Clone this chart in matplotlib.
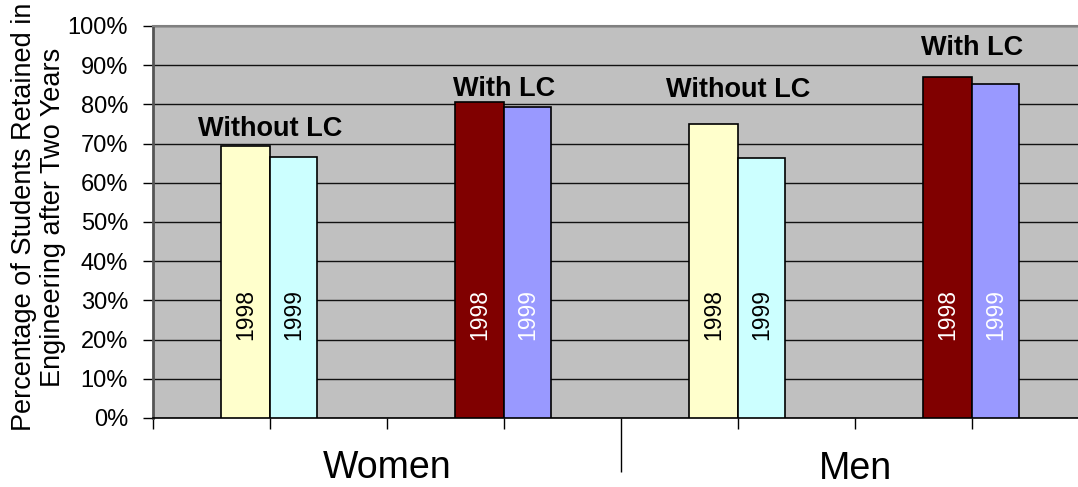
import matplotlib
matplotlib.use("Agg")
import matplotlib.pyplot as plt
from matplotlib.ticker import FixedLocator, PercentFormatter

plt.rcParams['font.family'] = ['Liberation Sans', 'DejaVu Sans']

# ---- data ----
sexes = ["Women", "Men"]
group_labels = ["Without LC", "With LC", "Without LC", "With LC"]
years = ["1998", "1999"]
values_1998 = [69.4, 80.5, 75.0, 87.0]
values_1999 = [66.5, 79.3, 66.4, 85.3]
label_heights = [71.9, 82.1, 81.9, 92.6]   # baseline of group annotations (%)
yticks = list(range(0, 101, 10))

colors_1998 = ['#FFFFCC', '#800000', '#FFFFCC', '#800000']
colors_1999 = ['#CCFFFF', '#9999FF', '#CCFFFF', '#9999FF']
text_1998 = ['black', 'white', 'black', 'white']
text_1999 = ['black', 'white', 'black', 'white']

W, H = 1078, 487
fig = plt.figure(figsize=(W / 100, H / 100), dpi=100)
ax = fig.add_axes([153 / W, 69 / H, 936 / W, 392 / H])
ax.set_facecolor('#C0C0C0')

centers = [1, 3, 5, 7]
w98, w99 = 0.42, 0.40
for i, c in enumerate(centers):
    ax.bar(c - w98, values_1998[i], width=w98, align='edge', color=colors_1998[i],
           edgecolor='black', linewidth=1.2, zorder=3)
    ax.bar(c, values_1999[i], width=w99, align='edge', color=colors_1999[i],
           edgecolor='black', linewidth=1.2, zorder=3)
    ax.text(c - w98 / 2, 26.5, years[0], rotation=90, ha='center', va='center',
            fontsize=16.5, color=text_1998[i], zorder=4)
    ax.text(c + w99 / 2, 26.5, years[1], rotation=90, ha='center', va='center',
            fontsize=16.5, color=text_1999[i], zorder=4)
    ax.text(c, label_heights[i], group_labels[i], ha='center', va='baseline',
            fontsize=19.5, fontweight='bold', color='black', zorder=4)

ax.set_xlim(0, 8)
ax.set_ylim(0, 100)
ax.yaxis.set_major_locator(FixedLocator(yticks))
ax.yaxis.set_major_formatter(PercentFormatter(decimals=0))
ax.tick_params(axis='y', direction='out', length=7, width=1, pad=11,
               labelsize=17, color='black')
ax.set_axisbelow(True)
ax.grid(axis='y', color='#111111', linewidth=1.0, zorder=1)

# x ticks: minor at every slot, long major at the Women/Men divider
ax.xaxis.set_major_locator(FixedLocator([4]))
ax.xaxis.set_minor_locator(FixedLocator([0, 1, 2, 3, 5, 6, 7, 8]))
ax.tick_params(axis='x', which='major', direction='out', length=39, width=1,
               labelbottom=False, color='black')
ax.tick_params(axis='x', which='minor', direction='out', length=8, width=1,
               color='black')
for s, xc, off in zip(sexes, [2, 6], [-43.5, -44.2]):
    ax.annotate(s, xy=(xc, 0), xycoords=('data', 'axes fraction'),
                xytext=(0, off), textcoords='offset points',
                ha='center', va='baseline', fontsize=27, color='black',
                annotation_clip=False)

ax.spines['left'].set_color('#555555')
ax.spines['left'].set_linewidth(2)
ax.spines['bottom'].set_color('black')
ax.spines['bottom'].set_linewidth(1.2)
ax.spines['top'].set_color('#808080')
ax.spines['top'].set_linewidth(1.5)
ax.spines['right'].set_visible(False)

fig.text(39 / W, 1 - 217 / H,
         "Percentage of Students Retained in\nEngineering after Two Years",
         rotation=90, ha='center', va='center', fontsize=19.5,
         multialignment='center', linespacing=1.15)

fig.savefig('out.png', dpi=100)
